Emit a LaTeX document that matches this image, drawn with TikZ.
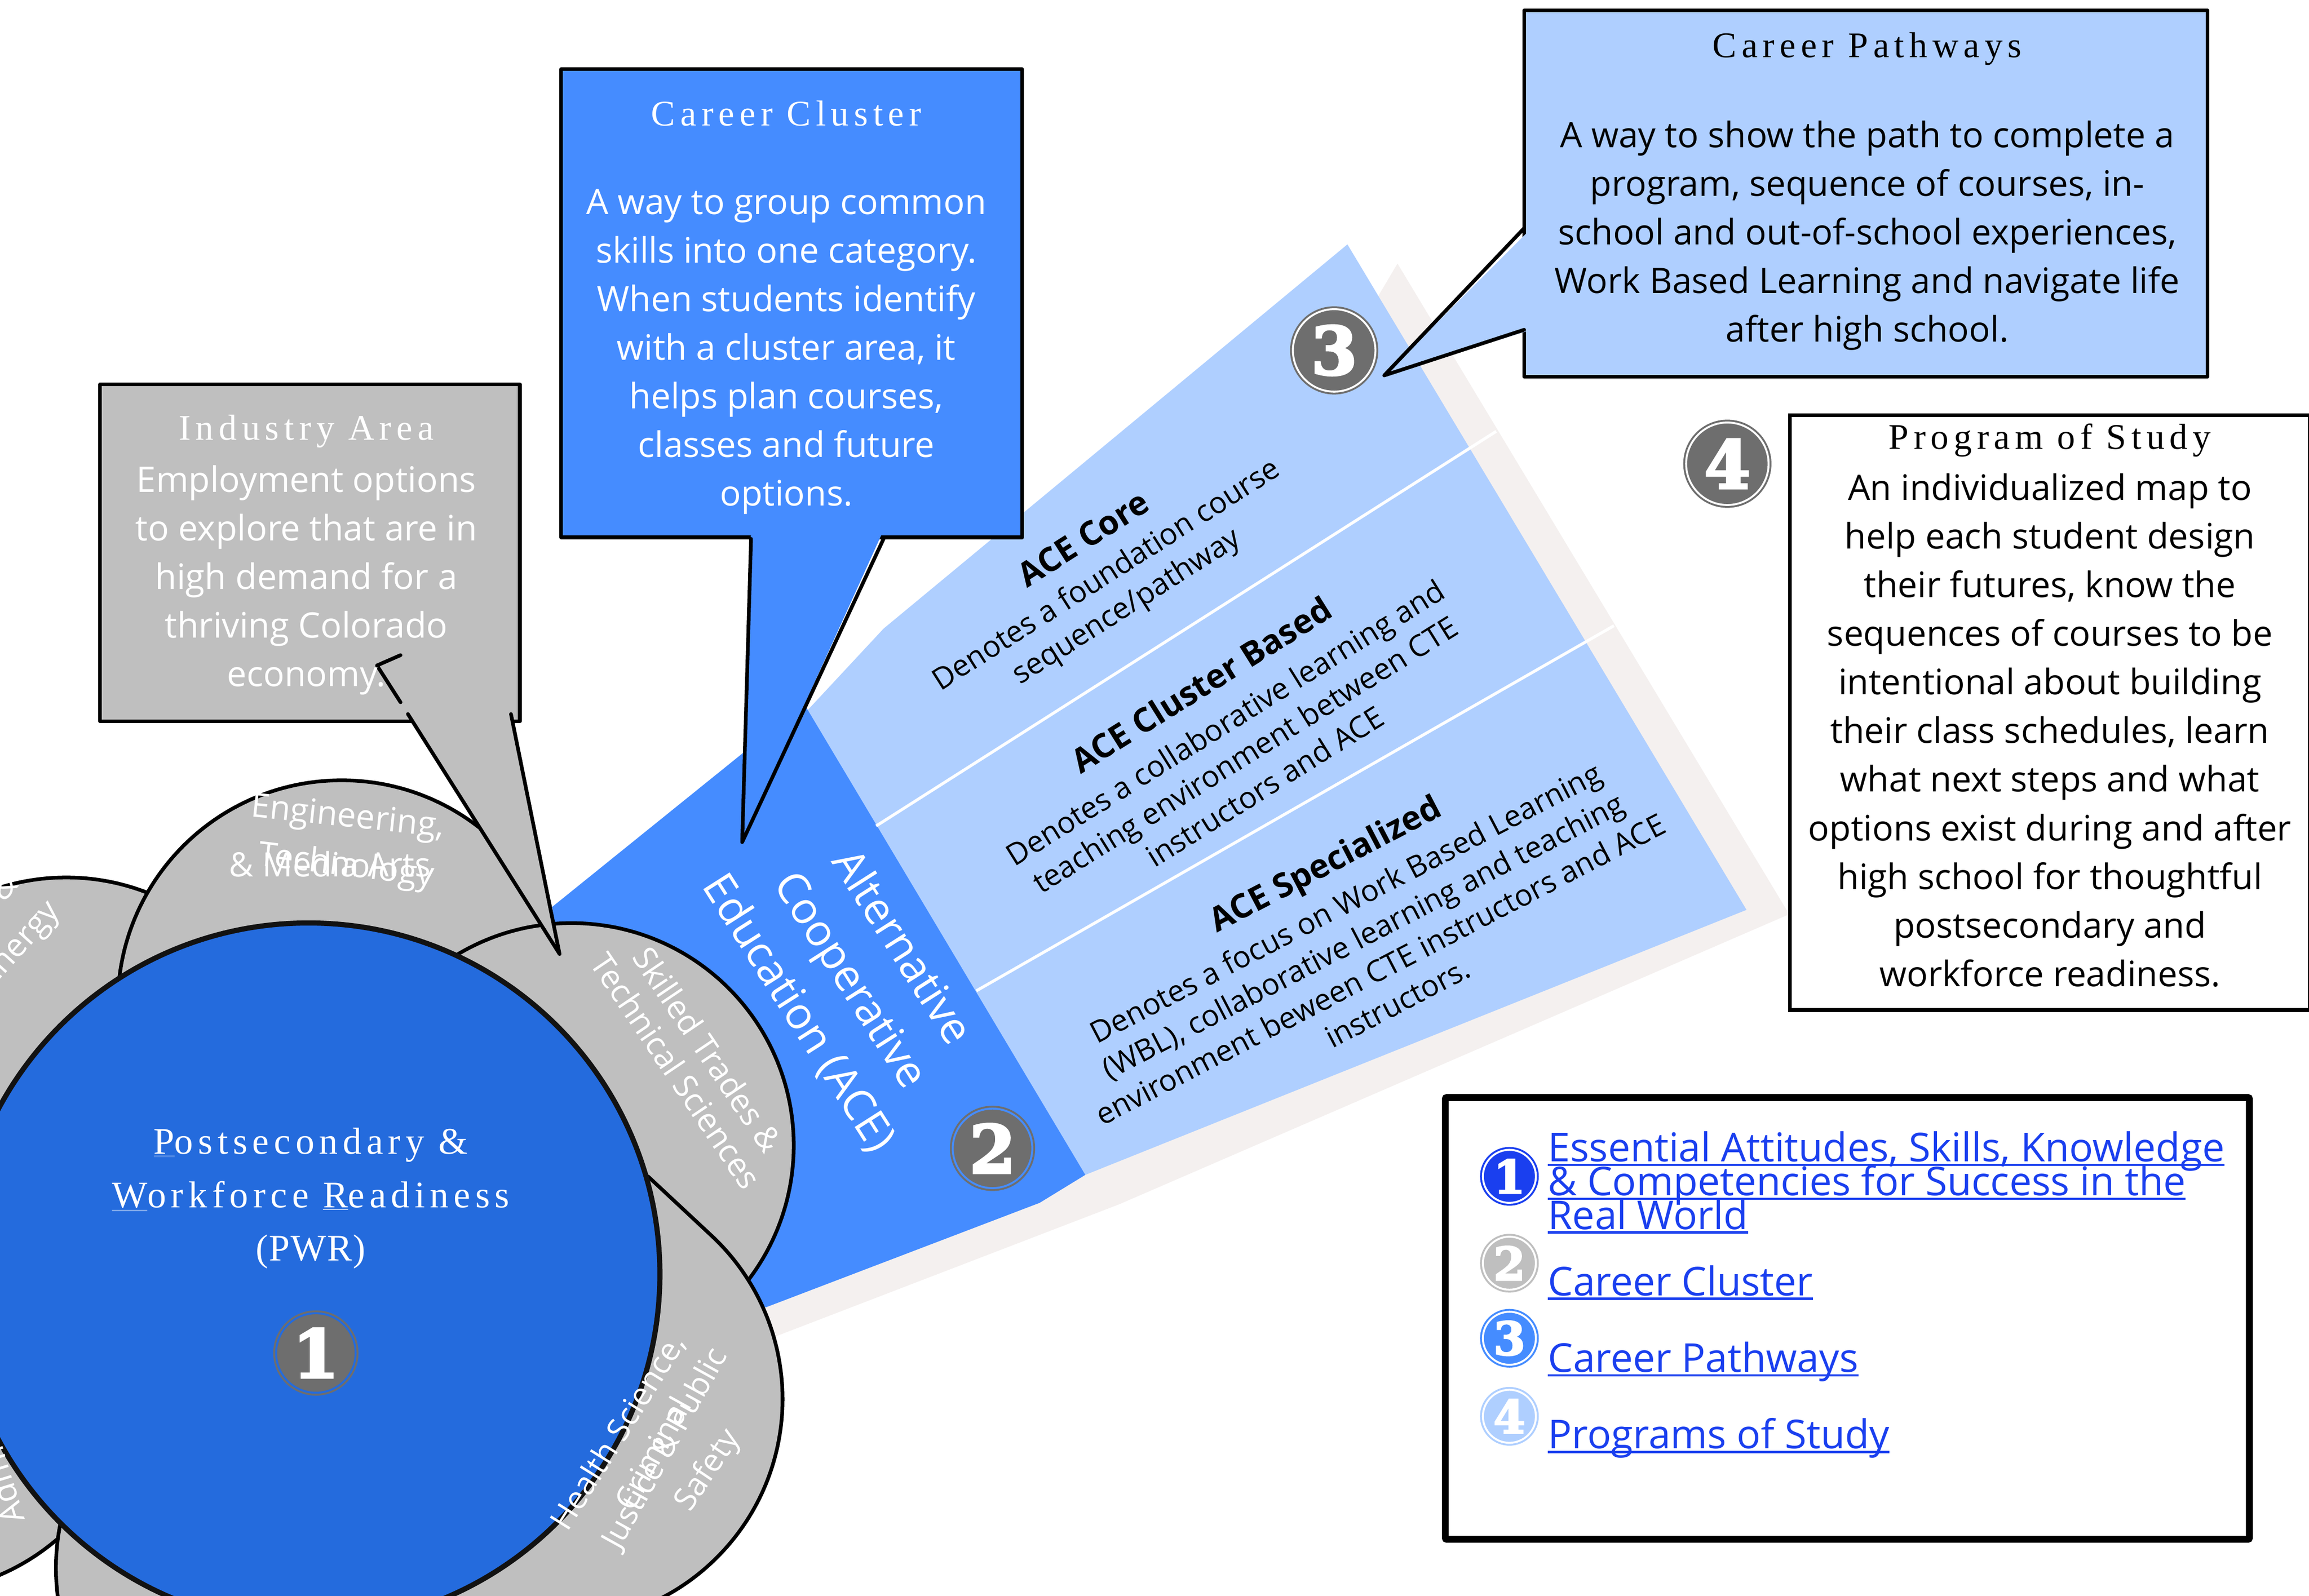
\documentclass[tikz,border=0pt]{standalone}
\usepackage{fontspec}
\setmainfont{Open Sans}
\newfontfamily\ttlfont[LetterSpace=14]{Liberation Serif}
\newfontfamily\mainfont[LetterSpace=13]{Liberation Serif}
\newfontfamily\pwrfont[LetterSpace=2]{Liberation Serif}
\newfontfamily\bdgfont[FakeBold=3.5]{DejaVu Serif}
\definecolor{lb}{HTML}{AFCFFF}
\definecolor{mb}{HTML}{458CFF}
\definecolor{cb}{HTML}{246BDD}
\definecolor{gy}{HTML}{BFBFBF}
\definecolor{sh}{HTML}{F4F0EF}
\definecolor{dg}{HTML}{6E6E6E}
\definecolor{lk}{HTML}{1A3FEF}
\newsavebox{\lkbox}
\newcommand{\lnk}[1]{\sbox{\lkbox}{#1}\rlap{\rule[-3pt]{\wd\lkbox}{1.6pt}}\usebox{\lkbox}}
\newcommand{\ulc}[1]{\underline{#1}}
\newcommand{\hd}[1]{{\fontsize{22.7}{25.5}\selectfont\bfseries #1}}
\tikzset{
 x=1pt,y=-1pt,
 boxline/.style={draw=black,line width=2.5pt,line join=round},
 ptr/.style={draw=black,line width=2.5pt,line join=round,line cap=round},
 petal/.style={fill=gy,draw=black,line width=2.5pt},
 body/.style={inner sep=0pt,align=center,font=\fontsize{23.85}{33}\selectfont},
 ttl/.style={inner sep=0pt,align=center,font=\fontsize{24.5}{33}\selectfont\ttlfont},
 band/.style={inner sep=0pt,align=center,font=\fontsize{20.3}{25.5}\selectfont},
 ptext/.style={inner sep=0pt,align=center,text=white,font=\fontsize{22}{26}\selectfont},
 badge/.style={circle,inner sep=0pt,minimum size=#1,line width=1.3pt,double distance=1.3pt},
 link/.style={inner sep=0pt,anchor=base west,text=lk,font=\fontsize{27}{23}\selectfont},
}
\begin{document}
\begin{tikzpicture}
\useasboundingbox (0,0) rectangle (1568,1084);
% band shadow and bands
\fill[sh] (949,179) -- (1215,621) -- (760,818) -- (526,908) -- (520,888) -- (700,600) -- cycle;
\fill[lb] (915,166) -- (1186,618) -- (737,798) -- (546,485) -- (600,427) -- cycle;
\fill[mb] (375,616) -- (546,478) -- (737,798) -- (706,817) -- (520,888) -- (400,800) -- cycle;
\draw[white,line width=2pt] (1016,293) -- (595,561);
\draw[white,line width=2pt] (1096,425) -- (663,673);
% petals
\fill[petal] (45,747) circle[radius=151];
\fill[petal] (-60,930) circle[radius=152];
\fill[petal] (232,682) circle[radius=152];
\fill[petal] (388,778) circle[radius=151];
\fill[petal] (189,1065) circle[radius=151];
\draw[petal,line join=round] (440,799) -- (485,841) arc[start angle=-46,end angle=250,radius=152] -- cycle;
% centre
\fill[fill=cb,draw=black!93,line width=3.5pt] (209.5,865.5) circle[radius=238.6];
% bands text
\node[band,rotate=32.5] (core) at (751,390) {\hd{ACE Core}\\[2pt]Denotes a foundation course\\sequence/pathway};
\node[band,rotate=32] (clus) at (837,499) {\hd{ACE Cluster Based}\\[4pt]Denotes a collaborative learning and\\teaching environment between CTE\\instructors and ACE};
\node[band,rotate=27.5] (spec) at (924,633) {\hd{ACE Specialized}\\[4pt]Denotes a focus on Work Based Learning\\(WBL), collaborative learning and teaching\\environment beween CTE instructors and ACE\\instructors.};
\node[inner sep=0pt,align=center,text=white,rotate=-57.5,font=\fontsize{29.7}{41.5}\selectfont] (ace) at (577,666) {Alternative\\Cooperative\\Education (ACE)};
% petal text
\node[ptext,rotate=-6,font=\fontsize{22.8}{26}\selectfont] (eng) at (236,556) {Engineering,};
\node[ptext,rotate=-7,font=\fontsize{22.8}{26}\selectfont] (tech) at (235,589) {Technology};
\node[ptext,font=\fontsize{22.8}{26}\selectfont] (media) at (224,587) {\& Media Arts};
\node[ptext,rotate=-56] (skill) at (470,720) {Skilled Trades \&\\Technical Sciences};
\node[ptext,rotate=58,font=\fontsize{21.5}{26}\selectfont] (hs) at (420,973) {Health Science,};
\node[ptext,rotate=61,font=\fontsize{21.5}{26}\selectfont] (jp) at (452,984) {Justice \& Public};
\node[ptext,rotate=61,font=\fontsize{21.5}{26}\selectfont] (cr) at (443,987) {Criminal};
\node[ptext,rotate=56,font=\fontsize{21.5}{26}\selectfont] (sf) at (481,999) {Safety};
\node[ptext,rotate=48] (en) at (14,642) {Energy};
\node[ptext,rotate=48] (am) at (2,602) {\&};
\node[ptext,rotate=107,anchor=base west] (ad) at (17,1032) {Admi};
% centre text
\node[inner sep=0pt,align=center,text=white,font=\fontsize{25.5}{36.3}\selectfont\mainfont] (pwr) at (211,814) {\ulc{P}ostsecondary \&\\\ulc{W}orkforce \ulc{R}eadiness\\{\pwrfont (PWR)}};
% Career Cluster callout
\node[fill=mb,boxline,minimum width=313pt,minimum height=318pt,inner sep=0pt] (ccbox) at (537.5,206) {};
\fill[mb] (510,360) -- (504,572) -- (600,360) -- cycle;
\coordinate (cctip) at (504,572);
\draw[ptr] (510,366) -- (cctip) -- (600,366);
\node[ttl,text=white] (cct) at (534,77) {Career Cluster};
\node[body,text=white] (ccb) at (534,239) {A way to group common\\skills into one category.\\When students identify\\with a cluster area, it\\helps plan courses,\\classes and future\\options.};
% Career Pathways callout
\node[fill=lb,boxline,minimum width=464pt,minimum height=249pt,inner sep=0pt] (cpbox) at (1267,131.5) {};
\fill[lb] (1040,155) -- (940,255) -- (1040,224) -- cycle;
\coordinate (cptip) at (940,255);
\draw[ptr] (1035,155) -- (cptip) -- (1035,224);
\node[ttl] (cpt) at (1268,33) {Career Pathways};
\node[body] (cpb) at (1268,160) {A way to show the path to complete a\\program, sequence of courses, in-\\school and out-of-school experiences,\\Work Based Learning and navigate life\\after high school.};
% Industry Area callout
\node[fill=gy,boxline,minimum width=285pt,minimum height=229pt,inner sep=0pt] (iabox) at (210.5,375.5) {};
\fill[gy] (272,440) -- (345,440) -- (348,493) -- (380,648) -- (277,485) -- (272,477) -- cycle;
\coordinate (iatip) at (380,648);
\draw[ptr] (272,445) -- (256,452) -- (272,477);
\draw[ptr] (277,485) -- (iatip) -- (347,485);
\node[ttl,text=white] (iat) at (208,293) {Industry Area};
\node[body,text=white] (iab) at (208,394) {Employment options\\to explore that are in\\high demand for a\\thriving Colorado\\economy.};
% Program of Study
\node[fill=white,draw=black,line width=2.5pt,minimum width=353pt,minimum height=404pt,inner sep=0pt] (psbox) at (1392,484) {};
\node[ttl] (pst) at (1392,299) {Program of Study};
\node[body] (psb) at (1392,496) {An individualized map to\\help each student design\\their futures, know the\\sequences of courses to be\\intentional about building\\their class schedules, learn\\what next steps and what\\options exist during and after\\high school for thoughtful\\postsecondary and\\workforce readiness.};
% badges
\node[badge=54pt,fill=dg,draw=dg,double=cb,text=white,font=\fontsize{45}{45}\selectfont\bdgfont\bfseries] (b1) at (214.5,919) {1};
\node[badge=54pt,fill=dg,draw=dg,double=mb,text=white,font=\fontsize{45}{45}\selectfont\bdgfont\bfseries] (b2) at (674,780) {2};
\node[badge=56pt,fill=dg,draw=dg,double=white,text=white,font=\fontsize{45}{45}\selectfont\bdgfont\bfseries] (b3) at (906,238) {3};
\node[badge=56pt,fill=dg,draw=dg,double=white,text=white,font=\fontsize{45}{45}\selectfont\bdgfont\bfseries] (b4) at (1173,315) {4};
% legend
\node[draw=black,line width=4.7pt,rounded corners=1pt,minimum width=546pt,minimum height=300pt,inner sep=0pt] (leg) at (1254.5,895.5) {};
\node[badge=36pt,fill=lk,draw=lk,double=white,text=white,font=\fontsize{31}{31}\selectfont\bdgfont\bfseries] (l1) at (1025,799) {1};
\node[badge=36pt,fill=gy,draw=gy,double=white,text=white,font=\fontsize{31}{31}\selectfont\bdgfont\bfseries] (l2) at (1025,858) {2};
\node[badge=36pt,fill=mb,draw=mb,double=white,text=white,font=\fontsize{31}{31}\selectfont\bdgfont\bfseries] (l3) at (1025,909) {3};
\node[badge=36pt,fill=lb,draw=lb,double=white,text=white,font=\fontsize{31}{31}\selectfont\bdgfont\bfseries] (l4) at (1025,962) {4};
\node[link] (t1a) at (1051,789) {\lnk{Essential Attitudes, Skills, Knowledge}};
\node[link] (t1b) at (1051,812) {\lnk{\& Competencies for Success in the}};
\node[link] (t1c) at (1051,835) {\lnk{Real World}};
\node[link] (t2) at (1051,880) {\lnk{Career Cluster}};
\node[link] (t3) at (1051,932) {\lnk{Career Pathways}};
\node[link] (t4) at (1051,984) {\lnk{Programs of Study}};
\end{tikzpicture}
\end{document}
